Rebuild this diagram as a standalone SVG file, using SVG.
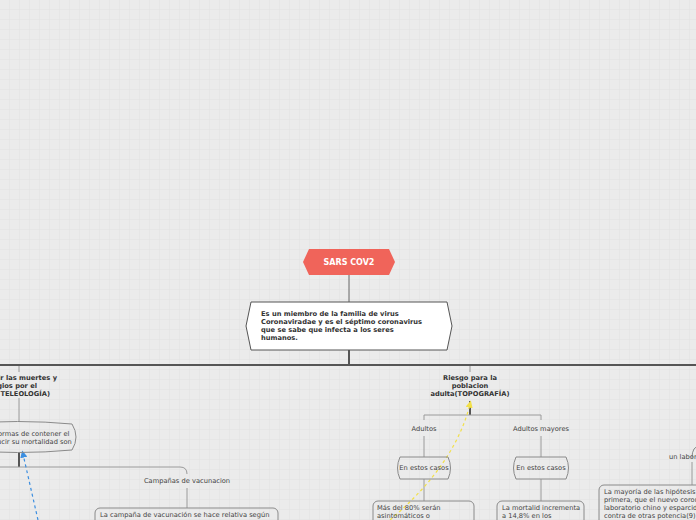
<svg xmlns="http://www.w3.org/2000/svg" width="696" height="520" viewBox="0 0 696 520">
<defs>
<pattern id="grid" x="9" y="9" width="10" height="10" patternUnits="userSpaceOnUse">
<path d="M0 0H10M0 0V10" stroke="#e1e1e1" stroke-width="1" fill="none"/>
</pattern>
<marker id="ab" viewBox="0 0 10 10" refX="5" refY="5" markerWidth="6" markerHeight="6" orient="auto-start-reverse">
<path d="M0 0L10 5L0 10z" fill="#3b8ee0"/>
</marker>
<marker id="ay" viewBox="0 0 10 10" refX="5" refY="5" markerWidth="6" markerHeight="6" orient="auto-start-reverse">
<path d="M0 0L10 5L0 10z" fill="#f2e04a"/>
</marker>
</defs>
<style>
text{font-family:"DejaVu Sans","Liberation Sans",sans-serif;font-size:6.7px;fill:#444}
.b{font-weight:bold;fill:#333}
.c{text-anchor:middle}
.e{text-anchor:end}
.thin{stroke:#9a9a9a;stroke-width:1;fill:none}
.thick{stroke:#555;stroke-width:2;fill:none}
.box{fill:none;stroke:#8a8a8a;stroke-width:1}
</style>
<rect width="696" height="520" fill="#ebebeb"/>
<rect width="696" height="520" fill="url(#grid)"/>

<g id="connectors">
<line class="thin" x1="349" y1="275" x2="349" y2="302" style="stroke:#666"/>
<line class="thick" x1="349" y1="350" x2="349" y2="365"/>
<line class="thick" x1="0" y1="365" x2="696" y2="365"/>
<line class="thin" x1="19" y1="366" x2="19" y2="372"/>
<line class="thin" x1="19" y1="398" x2="19" y2="422"/>
<line class="thick" x1="19" y1="452" x2="19" y2="467"/>
<path class="thin" d="M0 467H180Q187 467 187 474"/>
<line class="thin" x1="187" y1="488" x2="187" y2="508"/>
<line class="thin" x1="470" y1="366" x2="470" y2="372"/>
<line class="thick" x1="470" y1="401" x2="470" y2="415"/>
<path class="thin" d="M424 420V415H541V420"/>
<line class="thin" x1="424" y1="436" x2="424" y2="457"/>
<line class="thin" x1="541" y1="436" x2="541" y2="457"/>
<line class="thin" x1="424" y1="479" x2="424" y2="501"/>
<line class="thin" x1="541" y1="479" x2="541" y2="501"/>
<line class="thin" x1="692" y1="462" x2="692" y2="485"/>
<line x1="38" y1="520" x2="23" y2="454" stroke="#3b8ee0" stroke-width="1.2" stroke-dasharray="3 3" marker-end="url(#ab)"/>
<path d="M390 520Q455 465 470 404" fill="none" stroke="#f2e04a" stroke-width="1.2" stroke-dasharray="3 3" marker-end="url(#ay)"/>
</g>

<g id="sars">
<polygon points="303,262 309,249 389,249 395,262 389,275 309,275" fill="#f0645a"/>
<text class="b c" x="349" y="265" style="fill:#fff;font-size:8px">SARS COV2</text>
</g>

<g id="miembro">
<polygon points="246,326 251,302 447,302 452,326 447,350 251,350" fill="#fff" stroke="#555" stroke-width="1"/>
<text class="b" x="261" y="316">Es un miembro de la familia de virus</text>
<text class="b" x="261" y="324">Coronaviradae y es el séptimo coronavirus</text>
<text class="b" x="261" y="332">que se sabe que infecta a los seres</text>
<text class="b" x="261" y="340">humanos.</text>
</g>

<g id="teleologia">
<text class="b e" x="57" y="380">ir las muertes y</text>
<text class="b e" x="37" y="388">gios por el</text>
<text class="b e" x="50" y="396">TELEOLOGÍA)</text>
</g>

<g id="contener">
<path class="box" d="M-40 424Q19 419 72 424Q80 437 72 450Q19 455 -40 450Z"/>
<text x="-2" y="436">ormas de contener el</text>
<text x="-3" y="444">ucir su mortalidad son</text>
</g>

<g id="campanas">
<text class="c" x="187" y="483">Campañas de vacunacion</text>
</g>

<g id="campana-texto">
<rect class="box" x="95" y="508" width="183" height="30" rx="5"/>
<text x="100" y="517">La campaña de vacunación  se hace relativa según</text>
</g>

<g id="riesgo">
<text class="b c" x="470" y="380">Riesgo para la</text>
<text class="b c" x="470" y="388">poblacion</text>
<text class="b c" x="470" y="396">adulta(TOPOGRAFÍA)</text>
</g>

<g id="adultos">
<text class="c" x="424" y="431">Adultos</text>
</g>
<g id="adultos-mayores">
<text class="c" x="541" y="431">Adultos mayores</text>
</g>

<g id="casos1">
<path class="box" d="M400 457H448Q453 468 448 479H400Q395 468 400 457Z"/>
<text class="c" x="424" y="470">En estos casos</text>
</g>
<g id="casos2">
<path class="box" d="M516 457H566Q571 468 566 479H516Q511 468 516 457Z"/>
<text class="c" x="541" y="470">En estos casos</text>
</g>

<g id="asintomaticos">
<rect class="box" x="373" y="501" width="101" height="30" rx="5"/>
<text x="377" y="510">Más del 80% serán</text>
<text x="377" y="518">asintomáticos o</text>
</g>

<g id="mortalidad">
<rect class="box" x="497" y="501" width="87" height="30" rx="5"/>
<text x="502" y="510">La mortalid incrementa</text>
<text x="502" y="518">a 14,8% en los</text>
</g>

<g id="laboratorio">
<path class="box" d="M692 458Q692 446 700 446"/>
<text x="669" y="459">un labora</text>
</g>

<g id="hipotesis">
<rect class="box" x="599" y="485" width="110" height="40" rx="5"/>
<text x="604" y="494">La mayoría de las hipótesis s</text>
<text x="604" y="502">primera, que el nuevo coron</text>
<text x="604" y="510">laboratorio chino y esparcido</text>
<text x="604" y="518">contra de otras potencia(9)</text>
</g>
</svg>
